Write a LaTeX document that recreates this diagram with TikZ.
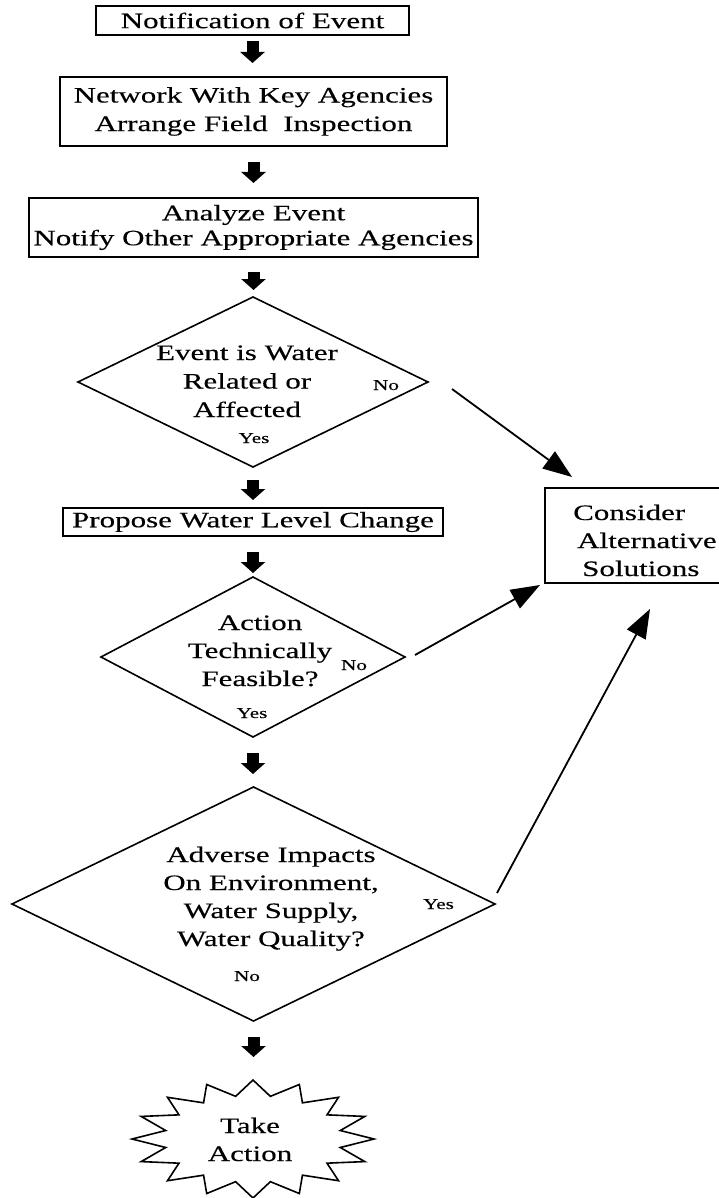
\documentclass[tikz,border=0pt]{standalone}
\usepackage{fontspec}
\setmainfont{Liberation Serif}[FakeStretch=1.41,FakeBold=0.3]
\usetikzlibrary{shapes.geometric,arrows.meta,calc}
\newcommand{\mlines}[2][c]{\begin{tabular}[t]{@{}#1@{}}#2\end{tabular}}
\begin{document}
\begin{tikzpicture}[x=1pt,y=-1pt,
  bigA/.style={font=\fontsize{22}{28.5}\selectfont},
  bigB/.style={font=\fontsize{22}{28}\selectfont},
  small/.style={font=\fontsize{15}{18}\selectfont, inner sep=0, anchor=base},
  box/.style={draw, line width=2.4pt, inner sep=0, outer sep=0, align=center, bigA},
  dec/.style={draw, diamond, line width=1.6pt, inner sep=0, outer sep=0},
  txt/.style={inner sep=0, anchor=base, bigA},
  flow/.style={line width=12pt, -{Triangle[length=11pt,width=24pt]}},
  conn/.style={line width=1.8pt, -{Triangle[length=29pt,width=21pt]}},
  starline/.style={line width=1.6pt, line join=miter}]
\useasboundingbox (0,0) rectangle (719,1198);
\clip (0,0) rectangle (719,1198);

% boxes and decisions
\node[box, minimum width=313, minimum height=29] (b1) at (252.5,20.5) {Notification of Event};
\node[box, minimum width=387, minimum height=69] (b2) at (253.5,111.5) {Network With Key Agencies\\Arrange Field~~Inspection};
\node[box, minimum width=449, minimum height=59, font=\fontsize{22}{25}\selectfont] (b3) at (253.5,227.5) {Analyze Event\\Notify Other Appropriate Agencies};
\node[dec, minimum width=350, minimum height=170] (d1) at (253,382) {};
\node[box, minimum width=380, minimum height=28] (b4) at (253,522) {Propose Water Level Change};
\node[box, minimum width=200, minimum height=95] (alt) at (645,535.5) {};
\node[dec, minimum width=304, minimum height=160] (d2) at (253,657) {};
\node[dec, minimum width=483, minimum height=234] (d3) at (253.5,904) {};
\coordinate (actc) at (253,1139);
\coordinate (acttop) at (253,1080);

% starburst
\draw[starline] (actc) ++(90:121 and 59)
  \foreach \k in {0,...,15}{
    -- ($(actc)+({101.25+22.5*\k}:89 and 43.5)$)
    -- ($(actc)+({112.5+22.5*\k}:121 and 59)$)
  } -- cycle;

% texts inside shapes
\node[txt] (t1) at (247,360) {\mlines{Event is Water\\Related or\\Affected}};
\node[txt, bigB] (t2) at (260,630) {\mlines{Action\\Technically\\Feasible?}};
\node[txt, bigB] (t3) at (271,862) {\mlines{Adverse Impacts\\On Environment,\\Water Supply,\\Water Quality?}};
\node[txt, bigB, anchor=base west] (t4) at (573,520) {\mlines[l]{Consider\\\hspace{4pt}Alternative\\\hspace{9pt}Solutions}};
\node[txt, bigB] (t5) at (250,1133) {\mlines{Take\\Action}};

% yes / no labels
\node[small] (l1n) at (386,390) {No};
\node[small] (l1y) at (254,443) {Yes};
\node[small] (l2n) at (354,670) {No};
\node[small] (l2y) at (252,718) {Yes};
\node[small] (l3y) at (438.5,909) {Yes};
\node[small] (l3n) at (247,981) {No};

% block flow arrows
\draw[flow, shorten <=6pt, shorten >=14pt] (b1.south) -- (b1.south |- b2.north);
\draw[flow, shorten <=16pt, shorten >=15pt] (b2.south) -- (b3.north);
\draw[flow, shorten <=15pt, shorten >=7pt] (b3.south) -- (b3.south |- d1.north);
\draw[flow, shorten <=13pt, shorten >=8pt] (d1.south) -- (b4.north);
\draw[flow, shorten <=16pt, shorten >=4pt] (b4.south) -- (d2.north);
\draw[flow, shorten <=16pt, shorten >=13pt] (d2.south) -- (d2.south |- d3.north);
\draw[flow, shorten <=16pt, shorten >=23pt] (d3.south) -- (d3.south |- acttop);

% connectors to alternative solutions
\draw[conn] ($(d1.east)+(24,7)$) -- ($(alt.north west)+(27,-11)$);
\draw[conn] ($(d2.east)+(10,-2)$) -- ($(alt.south west)+(-5,2)$);
\draw[conn] ($(d3.east)+(2,-11)$) -- ($(alt.south west)+(105,26)$);
\end{tikzpicture}
\end{document}
